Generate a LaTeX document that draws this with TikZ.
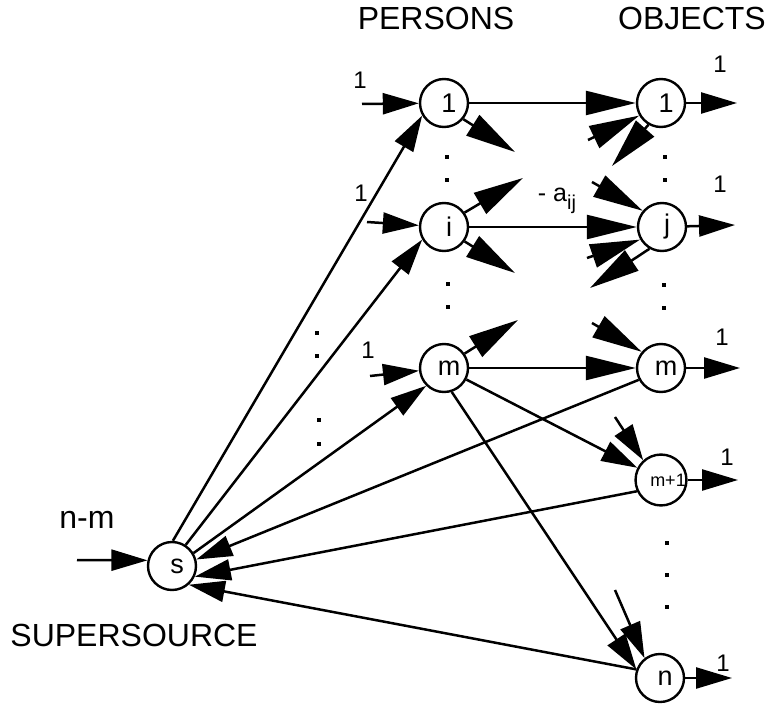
\documentclass[tikz,border=0pt]{standalone}
\usepackage{fontspec}
\setmainfont{Liberation Sans}
\usetikzlibrary{arrows.meta}
\begin{document}
\begin{tikzpicture}[x=1pt,y=-1pt,
  vtx/.style={circle,draw,line width=2.4pt,minimum size=48pt,inner sep=0pt,
    font=\fontsize{27}{27}\selectfont,execute at begin node={\hspace*{10pt}}},
  arr/.style={line width=2.5pt,-{Triangle[length=36pt,width=21pt]}},
  arrL/.style={line width=2.5pt,-{Triangle[length=50pt,width=24pt]}},
  lbl/.style={font=\fontsize{24}{24}\selectfont,inner sep=0pt},
  big/.style={font=\fontsize{32}{32}\selectfont,inner sep=0pt}]
\useasboundingbox (0,0) rectangle (768,706);

% headings
\node[big] (hp) at (436,18) {PERSONS};
\node[big] (ho) at (692,18) {OBJECTS};
\node[big] (hnm) at (87,520) {n-m};
\node[big] (hss) at (134,635) {SUPERSOURCE};

% vertices
\node[vtx] (p1) at (444,103) {1};
\node[vtx] (pi) at (444,227) {i};
\node[vtx] (pm) at (444,368) {m};
\node[vtx] (o1) at (661,103) {1};
\node[vtx] (oj) at (662,227) {j};
\node[vtx] (om) at (661,368) {m};
\node[vtx,font=\fontsize{18}{18}\selectfont,execute at begin node={\hspace*{4pt}}] (om1) at (661,480) {m+1};
\node[vtx] (on) at (660,678) {n};
\node[vtx] (s) at (172,566) {s};

% free ends
\coordinate (in1) at (362,104);
\coordinate (ini) at (367,222);
\coordinate (inm) at (370,376);
\coordinate (ins) at (77,560);
\coordinate (out1) at (737,103);
\coordinate (outj) at (735,225);
\coordinate (outm) at (740,368);
\coordinate (outm1) at (738,480);
\coordinate (outn) at (732,678);

\coordinate (sp1) at (515,152);
\coordinate (so1a) at (588,140);
\coordinate (so1b) at (612,166);
\coordinate (spia) at (523,178);
\coordinate (spib) at (515,273);
\coordinate (soja) at (592,182);
\coordinate (sojb) at (587,258);
\coordinate (sojc) at (590,288);
\coordinate (spm) at (518,320);
\coordinate (som) at (592,323);
\coordinate (som1) at (615,417);
\coordinate (son) at (615,590);

% supply / demand arrows
\draw[arr] (in1) -- (p1);
\draw[arr] (ini) -- (pi);
\draw[arr] (inm) -- (pm);
\draw[arr] (ins) -- (s.167);
\draw[arr] (o1) -- (out1);
\draw[arr] (oj) -- (outj);
\draw[arr] (om) -- (outm);
\draw[arr] (om1) -- (outm1);
\draw[arr] (on) -- (outn);

% labels
\node[lbl] (l1) at (360,80) {1};
\node[lbl] (l2) at (361,193) {1};
\node[lbl] (l3) at (368,350) {1};
\node[lbl] (l4) at (720,64) {1};
\node[lbl] (l5) at (720,184) {1};
\node[lbl] (l6) at (722,337) {1};
\node[lbl] (l7) at (727,457) {1};
\node[lbl] (l8) at (723,663) {1};
\node[lbl,font=\fontsize{25}{25}\selectfont] (laij) at (557,201) {- a\raisebox{-0.3em}{\fontsize{20}{20}\selectfont ij}};

% main arcs
\draw[arrL] (p1) -- (o1);
\draw[arrL] (pi) -- (oj);
\draw[arrL] (pm) -- (om);
\draw[arr] (pm) -- (om1);
\draw[arr] (pm.-72) -- (on.160);

% arcs from the supersource
\draw[arr] (s.88) -- (p1.-150);
\draw[arr] (s.57) -- (pi.-150);
\draw[arr] (s.31) -- (pm.-135);

% arcs back to the supersource
\draw[arr] (om.208) -- (s.15);
\draw[arr] (om1.205) -- (s.-25);
\draw[arr] (on.160) -- (s.-48);

% stubs
\draw[arrL] (p1.-40) -- (sp1);
\draw[arrL] (so1a) -- (o1.-150);
\draw[arrL] (o1.-120) -- (so1b);
\draw[arrL] (pi.35) -- (spia);
\draw[arrL] (pi.-35) -- (spib);
\draw[arrL] (soja) -- (oj.140);
\draw[arrL] (sojb) -- (oj.-150);
\draw[arrL] (oj.-120) -- (sojc);
\draw[arrL] (pm.35) -- (spm);
\draw[arrL] (som) -- (om.140);
\draw[arr] (som1) -- (om1.132);
\draw[arr] (son) -- (on.128);

% dots
\foreach \x/\y in {447/157,447/180,448/284,448/307,665/157,665/180,664/285,664/308,
  667/543,667/575,667/607,317/333,317/356,319/420,319/444}
  \fill (\x-2.4,\y-2.4) rectangle (\x+2.4,\y+2.4);
\end{tikzpicture}
\end{document}
